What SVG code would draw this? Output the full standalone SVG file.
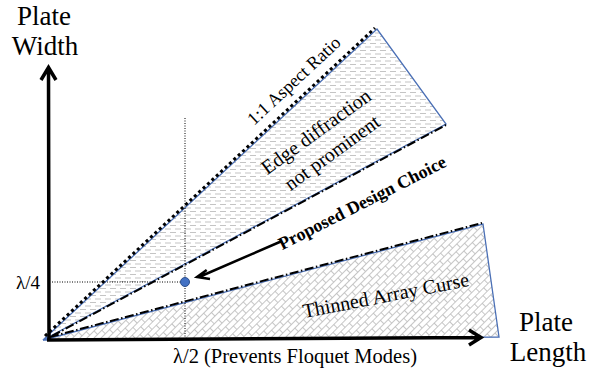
<svg xmlns="http://www.w3.org/2000/svg" width="600" height="374" viewBox="0 0 600 374">
<style>
text{font-family:"Liberation Serif","Times New Roman",serif;fill:#000}
.ax{fill:none;stroke:#000;stroke-width:3.5;stroke-linecap:butt;stroke-linejoin:miter}
.blue{stroke:#4a6fb5;stroke-width:1.3}
.dotted{fill:none;stroke:#000;stroke-width:3;stroke-dasharray:3 3}
.dashed{fill:none;stroke:#000;stroke-width:2;stroke-dasharray:9 2.5 1.5 2.5}
.guide{fill:none;stroke:#000;stroke-width:1;stroke-dasharray:1 1.5}
</style>
<defs>
<pattern id="hdash" width="10" height="7" patternUnits="userSpaceOnUse">
<rect width="10" height="7" fill="#fff"/>
<path d="M0 1.5h6M5 5h6M-5 5h6" stroke="#c4c4c4" stroke-width="1"/>
</pattern>
<pattern id="brick" width="12" height="10" patternUnits="userSpaceOnUse" patternTransform="rotate(-45)">
<rect width="12" height="10" fill="#fff"/>
<path d="M0 0.5H12M0 5.5H12M0.5 0.5V5.5M6.5 5.5V10" stroke="#b8b8b8" stroke-width="0.8"/>
</pattern>
</defs>
<g id="upper-region">
<polygon points="43,340 377,29 446,124" fill="url(#hdash)" class="blue"/>
</g>
<g id="lower-region">
<polygon points="43,340 483,224 499,337" fill="url(#brick)" class="blue"/>
</g>
<g id="guides">
<line class="guide" x1="52" y1="282" x2="185" y2="282"/>
<line class="guide" x1="185" y1="118" x2="185" y2="340"/>
</g>
<g id="connectors">
<line class="dotted" x1="45" y1="336" x2="375" y2="28"/>
<line class="dashed" x1="52" y1="336" x2="446" y2="125"/>
<line class="dashed" x1="50" y1="337" x2="482" y2="223"/>
<path class="ax" d="M49,341 L48.5,69 M41,80 L48.5,67.5 L56,80"/>
<path class="ax" d="M47,340 L480,337.5 M469,330 L481,337.5 L469,345"/>
<path d="M282,241 L199,277 M206.7,270 L197,277 L210,279" fill="none" stroke="#000" stroke-width="2.5"/>
</g>
<g id="design-point">
<circle cx="185" cy="282" r="4.5" fill="#4472c4" stroke="#2f528f" stroke-width="1"/>
</g>
<g id="labels">
<text x="44" y="25" font-size="27" text-anchor="middle">Plate</text>
<text x="45" y="55" font-size="27" text-anchor="middle">Width</text>
<text x="546" y="331" font-size="27" text-anchor="middle">Plate</text>
<text x="548" y="361" font-size="27" text-anchor="middle">Length</text>
<text x="16" y="289" font-size="19">λ/4</text>
<text x="173" y="363" font-size="20.5">λ/2 (Prevents Floquet Modes)</text>
<text transform="translate(298,85) rotate(-43)" font-size="18" text-anchor="middle">1:1 Aspect Ratio</text>
<text transform="translate(320,137) rotate(-36)" font-size="20" text-anchor="middle">Edge diffraction</text>
<text transform="translate(336,158) rotate(-36)" font-size="20" text-anchor="middle">not prominent</text>
<text transform="translate(365,208) rotate(-27)" font-size="18" font-weight="bold" text-anchor="middle">Proposed Design Choice</text>
<text transform="translate(387,302) rotate(-11)" font-size="20" text-anchor="middle">Thinned Array Curse</text>
</g>
</svg>
